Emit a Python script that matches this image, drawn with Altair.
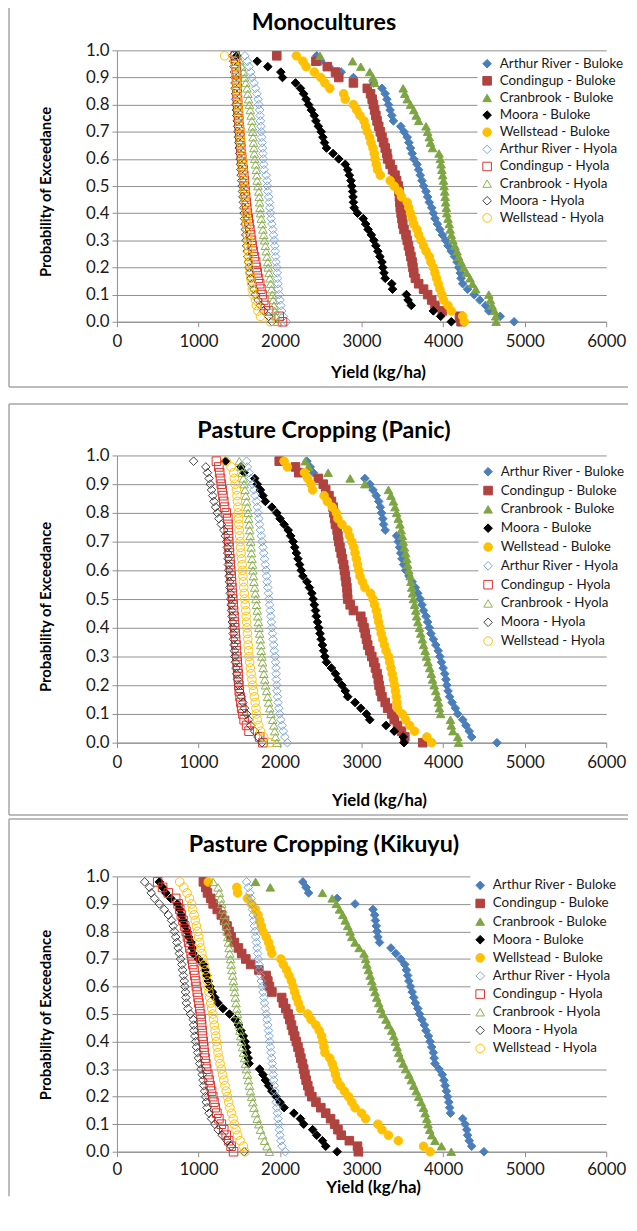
import altair as alt
import pandas as pd

# ---------------- data ----------------
PROB = [0.98, 0.96, 0.94, 0.92, 0.90, 0.88, 0.86, 0.84, 0.82, 0.80,
        0.78, 0.76, 0.74, 0.72, 0.70, 0.68, 0.66, 0.64, 0.62, 0.60,
        0.58, 0.56, 0.54, 0.52, 0.50, 0.48, 0.46, 0.44, 0.42, 0.40,
        0.38, 0.36, 0.34, 0.32, 0.30, 0.28, 0.26, 0.24, 0.22, 0.20,
        0.18, 0.16, 0.14, 0.12, 0.10, 0.08, 0.06, 0.04, 0.02, 0.00]

SERIES = ["Arthur River - Buloke", "Condingup - Buloke", "Cranbrook - Buloke",
          "Moora - Buloke", "Wellstead - Buloke", "Arthur River - Hyola",
          "Condingup - Hyola", "Cranbrook - Hyola", "Moora - Hyola", "Wellstead - Hyola"]

# ---- Monocultures ----
MONO_ARTHUR_BULOKE = [2450, 2500, 2600, 2750, 2900, 3150, 3250, 3290, 3310, 3330, 3350, 3370, 3390, 3480, 3520, 3560, 3580, 3600, 3620, 3640, 3680, 3700, 3720, 3740, 3760, 3790, 3810, 3830, 3860, 3880, 3900, 3930, 3960, 3990, 4030, 4060, 4100, 4140, 4170, 4190, 4210, 4220, 4240, 4300, 4380, 4450, 4520, 4560, 4700, 4870]
MONO_CONDINGUP_BULOKE = [1960, 2440, 2580, 2680, 2720, 2900, 3070, 3110, 3130, 3145, 3160, 3175, 3190, 3210, 3230, 3250, 3270, 3290, 3310, 3320, 3350, 3380, 3410, 3430, 3450, 3460, 3465, 3470, 3475, 3485, 3495, 3505, 3520, 3545, 3560, 3575, 3590, 3605, 3620, 3630, 3640, 3660, 3700, 3760, 3810, 3860, 3900, 3990, 4200, 4220]
MONO_CRANBROOK_BULOKE = [2490, 2890, 2990, 3100, 3140, 3160, 3510, 3530, 3560, 3600, 3640, 3670, 3700, 3790, 3810, 3830, 3845, 3870, 3950, 3965, 3975, 3985, 3995, 4005, 4012, 4020, 4025, 4032, 4040, 4045, 4060, 4075, 4086, 4100, 4120, 4145, 4170, 4190, 4220, 4250, 4290, 4330, 4360, 4400, 4560, 4580, 4600, 4630, 4645, 4650]
MONO_MOORA_BULOKE = [1470, 1720, 1850, 2010, 2030, 2190, 2250, 2290, 2320, 2350, 2385, 2420, 2440, 2470, 2505, 2525, 2545, 2570, 2650, 2720, 2800, 2830, 2850, 2870, 2880, 2890, 2895, 2900, 2910, 2950, 3020, 3050, 3080, 3120, 3150, 3175, 3200, 3225, 3250, 3260, 3275, 3290, 3370, 3380, 3550, 3570, 3610, 3880, 3970, 4100]
MONO_WELLSTEAD_BULOKE = [2200, 2280, 2320, 2420, 2500, 2550, 2610, 2780, 2800, 2900, 2940, 2980, 3030, 3050, 3070, 3100, 3115, 3140, 3155, 3165, 3180, 3195, 3230, 3350, 3400, 3460, 3490, 3560, 3580, 3600, 3620, 3640, 3680, 3700, 3730, 3760, 3790, 3830, 3850, 3880, 3900, 3920, 3940, 3960, 3985, 4005, 4060, 4100, 4240, 4260]
MONO_ARTHUR_HYOLA = [1570, 1600, 1620, 1640, 1660, 1680, 1700, 1715, 1730, 1740, 1750, 1755, 1760, 1765, 1770, 1775, 1780, 1785, 1790, 1795, 1800, 1805, 1830, 1840, 1845, 1850, 1860, 1870, 1875, 1885, 1890, 1900, 1910, 1920, 1930, 1935, 1940, 1945, 1950, 1960, 1965, 1970, 1975, 1980, 1990, 2000, 2010, 2020, 2040, 2080]
MONO_CONDINGUP_HYOLA = [1450, 1455, 1460, 1465, 1468, 1470, 1472, 1475, 1478, 1480, 1485, 1490, 1495, 1500, 1505, 1510, 1515, 1520, 1525, 1530, 1540, 1548, 1555, 1560, 1565, 1570, 1578, 1585, 1592, 1600, 1610, 1620, 1630, 1640, 1650, 1660, 1670, 1685, 1700, 1710, 1720, 1735, 1750, 1765, 1780, 1800, 1820, 1860, 1990, 2030]
MONO_CRANBROOK_HYOLA = [1480, 1510, 1530, 1550, 1565, 1580, 1595, 1605, 1615, 1625, 1635, 1645, 1655, 1660, 1665, 1670, 1675, 1680, 1685, 1690, 1700, 1710, 1715, 1720, 1730, 1740, 1745, 1750, 1755, 1760, 1770, 1780, 1790, 1800, 1810, 1820, 1830, 1840, 1850, 1855, 1865, 1875, 1885, 1895, 1905, 1915, 1925, 1935, 1950, 1970]
MONO_MOORA_HYOLA = [1420, 1430, 1435, 1440, 1445, 1448, 1450, 1455, 1458, 1460, 1465, 1470, 1475, 1480, 1485, 1490, 1495, 1500, 1505, 1510, 1515, 1520, 1525, 1530, 1535, 1540, 1545, 1550, 1555, 1560, 1565, 1570, 1575, 1580, 1585, 1590, 1598, 1605, 1612, 1620, 1630, 1645, 1660, 1680, 1700, 1730, 1760, 1800, 1860, 1900]
MONO_WELLSTEAD_HYOLA = [1320, 1440, 1450, 1455, 1460, 1465, 1470, 1475, 1480, 1485, 1490, 1495, 1500, 1505, 1510, 1515, 1520, 1525, 1530, 1535, 1540, 1545, 1550, 1555, 1560, 1565, 1570, 1575, 1580, 1585, 1590, 1595, 1600, 1605, 1610, 1612, 1615, 1618, 1620, 1622, 1630, 1640, 1650, 1660, 1670, 1700, 1710, 1730, 1760, 1880]

# ---- Pasture Cropping (Panic) ----
PANIC_ARTHUR_BULOKE = [2330, 2370, 2410, 3040, 3100, 3140, 3180, 3210, 3230, 3245, 3260, 3270, 3290, 3430, 3450, 3465, 3480, 3495, 3515, 3540, 3580, 3620, 3660, 3690, 3720, 3740, 3760, 3790, 3810, 3830, 3850, 3880, 3910, 3940, 3960, 3980, 4000, 4020, 4035, 4045, 4060, 4080, 4110, 4150, 4180, 4240, 4280, 4320, 4350, 4660]
PANIC_CONDINGUP_BULOKE = [1990, 2190, 2230, 2470, 2530, 2560, 2600, 2630, 2650, 2660, 2670, 2680, 2700, 2710, 2720, 2735, 2750, 2765, 2780, 2790, 2800, 2810, 2820, 2825, 2830, 2860, 2900, 2990, 3010, 3030, 3045, 3060, 3075, 3100, 3125, 3150, 3170, 3190, 3205, 3215, 3230, 3250, 3290, 3320, 3370, 3400, 3440, 3490, 3530, 3750]
PANIC_CRANBROOK_BULOKE = [2310, 2350, 2590, 2860, 3040, 3330, 3360, 3390, 3410, 3430, 3450, 3470, 3485, 3500, 3510, 3525, 3540, 3555, 3565, 3580, 3595, 3605, 3615, 3625, 3635, 3650, 3665, 3675, 3690, 3710, 3725, 3745, 3760, 3780, 3795, 3815, 3835, 3855, 3870, 3890, 3910, 3930, 3945, 3955, 3970, 4090, 4100, 4120, 4180, 4190]
PANIC_MOORA_BULOKE = [1330, 1520, 1560, 1690, 1720, 1760, 1790, 1820, 1900, 1960, 2000, 2050, 2100, 2130, 2160, 2180, 2200, 2220, 2240, 2260, 2280, 2330, 2360, 2390, 2405, 2420, 2435, 2445, 2460, 2475, 2490, 2505, 2520, 2535, 2550, 2570, 2630, 2680, 2710, 2760, 2800, 2830, 2920, 2990, 3060, 3100, 3300, 3400, 3510, 3520]
PANIC_WELLSTEAD_BULOKE = [2050, 2090, 2300, 2340, 2380, 2400, 2540, 2580, 2640, 2690, 2710, 2760, 2830, 2850, 2880, 2905, 2920, 2935, 2950, 2965, 2980, 3010, 3040, 3110, 3140, 3160, 3180, 3195, 3210, 3225, 3240, 3260, 3280, 3300, 3330, 3345, 3360, 3375, 3390, 3405, 3415, 3425, 3432, 3440, 3500, 3540, 3590, 3650, 3800, 3860]
PANIC_ARTHUR_HYOLA = [1590, 1600, 1620, 1640, 1660, 1680, 1695, 1710, 1720, 1730, 1740, 1750, 1760, 1770, 1780, 1790, 1800, 1810, 1820, 1828, 1835, 1842, 1850, 1858, 1865, 1872, 1880, 1887, 1894, 1900, 1908, 1915, 1922, 1930, 1940, 1945, 1950, 1952, 1955, 1958, 1962, 1968, 1975, 1985, 1995, 2010, 2025, 2040, 2060, 2090]
PANIC_CONDINGUP_HYOLA = [1220, 1250, 1260, 1270, 1280, 1290, 1300, 1310, 1320, 1340, 1360, 1362, 1365, 1368, 1370, 1375, 1380, 1385, 1390, 1395, 1400, 1405, 1410, 1415, 1420, 1425, 1430, 1435, 1440, 1445, 1450, 1455, 1460, 1465, 1470, 1475, 1480, 1485, 1490, 1495, 1500, 1510, 1520, 1530, 1545, 1560, 1590, 1620, 1750, 1790]
PANIC_CRANBROOK_HYOLA = [1500, 1520, 1535, 1550, 1560, 1570, 1580, 1590, 1600, 1608, 1615, 1622, 1628, 1634, 1640, 1645, 1650, 1656, 1662, 1668, 1674, 1680, 1688, 1696, 1704, 1712, 1720, 1728, 1735, 1742, 1750, 1757, 1764, 1770, 1777, 1785, 1793, 1802, 1812, 1822, 1835, 1848, 1860, 1875, 1890, 1910, 1925, 1935, 1945, 1960]
PANIC_MOORA_HYOLA = [940, 1090, 1110, 1130, 1145, 1160, 1175, 1190, 1210, 1230, 1250, 1280, 1310, 1330, 1345, 1352, 1358, 1362, 1366, 1370, 1375, 1380, 1385, 1390, 1395, 1400, 1405, 1410, 1415, 1420, 1425, 1430, 1435, 1440, 1445, 1452, 1460, 1468, 1478, 1490, 1505, 1525, 1545, 1565, 1590, 1615, 1640, 1690, 1730, 1780]
PANIC_WELLSTEAD_HYOLA = [1340, 1400, 1430, 1440, 1450, 1465, 1472, 1478, 1484, 1488, 1492, 1496, 1500, 1505, 1510, 1515, 1522, 1530, 1535, 1540, 1545, 1550, 1555, 1562, 1568, 1574, 1580, 1585, 1590, 1595, 1600, 1605, 1610, 1615, 1620, 1628, 1636, 1645, 1655, 1665, 1675, 1685, 1695, 1705, 1712, 1720, 1740, 1760, 1800, 1880]

# ---- Pasture Cropping (Kikuyu) ----
KIK_ARTHUR_BULOKE = [2280, 2320, 2350, 2700, 2920, 3140, 3160, 3170, 3180, 3190, 3200, 3220, 3360, 3420, 3480, 3530, 3550, 3565, 3580, 3600, 3620, 3640, 3660, 3690, 3710, 3740, 3770, 3790, 3820, 3840, 3860, 3880, 3890, 3900, 3950, 3990, 4010, 4025, 4040, 4055, 4070, 4080, 4090, 4240, 4270, 4290, 4300, 4320, 4350, 4500]
KIK_CONDINGUP_BULOKE = [1060, 1090, 1110, 1150, 1180, 1230, 1280, 1320, 1350, 1375, 1400, 1440, 1490, 1530, 1580, 1640, 1740, 1830, 1850, 1870, 1900, 2020, 2040, 2070, 2100, 2120, 2140, 2160, 2180, 2200, 2220, 2240, 2255, 2275, 2290, 2305, 2320, 2340, 2360, 2390, 2440, 2500, 2560, 2620, 2670, 2710, 2750, 2850, 2950, 2960]
KIK_CRANBROOK_BULOKE = [1700, 1880, 2520, 2640, 2690, 2730, 2770, 2800, 2830, 2860, 2880, 2920, 2970, 3030, 3050, 3065, 3085, 3105, 3125, 3145, 3165, 3185, 3210, 3235, 3260, 3300, 3330, 3370, 3395, 3415, 3435, 3455, 3480, 3510, 3540, 3580, 3610, 3640, 3670, 3700, 3730, 3760, 3780, 3800, 3815, 3835, 3860, 3900, 3980, 4100]
KIK_MOORA_BULOKE = [520, 560, 600, 660, 740, 770, 790, 810, 835, 860, 880, 910, 925, 935, 1000, 1060, 1080, 1100, 1120, 1140, 1170, 1200, 1240, 1300, 1380, 1450, 1490, 1520, 1550, 1570, 1585, 1595, 1610, 1620, 1750, 1790, 1820, 1860, 1900, 1950, 2000, 2050, 2170, 2250, 2290, 2400, 2450, 2520, 2560, 2700]
KIK_WELLSTEAD_BULOKE = [1120, 1470, 1480, 1600, 1650, 1700, 1730, 1750, 1770, 1790, 1830, 1860, 1880, 1900, 2010, 2040, 2080, 2110, 2140, 2160, 2180, 2200, 2225, 2250, 2340, 2380, 2440, 2480, 2510, 2525, 2540, 2550, 2610, 2640, 2660, 2680, 2700, 2740, 2790, 2840, 2880, 2920, 3000, 3050, 3200, 3250, 3330, 3450, 3760, 3840]
KIK_ARTHUR_HYOLA = [1590, 1610, 1630, 1645, 1655, 1662, 1670, 1678, 1686, 1694, 1702, 1710, 1718, 1726, 1734, 1742, 1750, 1760, 1770, 1780, 1790, 1800, 1810, 1820, 1830, 1840, 1850, 1858, 1866, 1874, 1882, 1890, 1898, 1905, 1912, 1918, 1924, 1930, 1938, 1945, 1952, 1960, 1968, 1976, 1984, 1992, 2000, 2010, 2025, 2065]
KIK_CONDINGUP_HYOLA = [500, 560, 630, 720, 750, 770, 790, 810, 830, 850, 865, 880, 895, 910, 920, 930, 945, 955, 965, 975, 985, 995, 1005, 1015, 1025, 1032, 1038, 1044, 1050, 1058, 1065, 1072, 1080, 1090, 1100, 1115, 1130, 1145, 1160, 1175, 1190, 1205, 1225, 1250, 1280, 1310, 1340, 1370, 1400, 1430]
KIK_CRANBROOK_HYOLA = [1180, 1240, 1255, 1270, 1285, 1300, 1315, 1330, 1340, 1350, 1360, 1368, 1376, 1384, 1392, 1400, 1410, 1420, 1428, 1436, 1444, 1452, 1460, 1468, 1478, 1488, 1498, 1508, 1518, 1528, 1540, 1552, 1564, 1576, 1588, 1600, 1612, 1625, 1638, 1652, 1666, 1680, 1700, 1720, 1740, 1760, 1785, 1810, 1840, 1870]
KIK_MOORA_HYOLA = [340, 400, 420, 460, 520, 580, 630, 670, 690, 705, 720, 735, 750, 765, 780, 795, 805, 815, 825, 833, 840, 846, 852, 870, 900, 935, 940, 945, 955, 965, 975, 990, 1000, 1015, 1030, 1045, 1055, 1065, 1075, 1085, 1095, 1105, 1130, 1160, 1200, 1240, 1290, 1350, 1400, 1560]
KIK_WELLSTEAD_HYOLA = [770, 820, 860, 890, 915, 930, 945, 960, 975, 990, 1002, 1014, 1026, 1040, 1055, 1070, 1085, 1098, 1108, 1118, 1128, 1138, 1150, 1162, 1175, 1185, 1195, 1204, 1212, 1220, 1230, 1240, 1252, 1265, 1280, 1295, 1310, 1325, 1340, 1355, 1370, 1385, 1405, 1425, 1440, 1460, 1480, 1510, 1550, 1570]

X_TICKS = [0, 1000, 2000, 3000, 4000, 5000, 6000]
Y_TICKS = [0.0, 0.1, 0.2, 0.3, 0.4, 0.5, 0.6, 0.7, 0.8, 0.9, 1.0]

# ---------------- style ----------------
FILLS = ["#4A7EBB", "#B0433F", "#7EA543", "#000000", "#FFC000",
         "transparent", "transparent", "transparent", "transparent", "transparent"]
STROKES = ["#4A7EBB", "#B0433F", "#7EA543", "#000000", "#FFC000",
           "#7EA6D8", "#E0322C", "#8DB151", "#404040", "#FFC000"]
SHAPES = ["diamond", "square", "triangle-up", "diamond", "circle",
          "diamond", "square", "triangle-up", "diamond", "circle"]

FONT = "Lato"
TXT = "#1a1a1a"
GRID = "#8F8F8F"
BOX = "#A6A6A6"
LEFT = -109
RIGHT = 516


def text_layer(one, txt, x, y, size, angle=0):
    props = dict(text=txt, font=FONT, fontSize=size, fontWeight="bold", color="#000000",
                 align="center", baseline="middle")
    if angle:
        props["angle"] = angle
    return alt.Chart(one).mark_text(**props).encode(x=alt.value(x), y=alt.value(y))


def panel(title, lists, h, title_y, ytitle_y, xtitle_x, xtitle_y,
          box_top, box_bottom, leg_x, leg_y, row_pad, left_end=None, label_pad=7):
    rows = []
    for si, (name, vals) in enumerate(zip(SERIES, lists)):
        for pi, (v, p) in enumerate(zip(vals, PROB)):
            rows.append({"series": name, "yield": v, "prob": p, "idx": si * 100 + pi})
    df = pd.DataFrame(rows)
    one = pd.DataFrame({"k": [0]})

    legend = alt.Legend(title=None, orient="none", legendX=leg_x, legendY=leg_y,
                        fillColor="white", padding=3, labelFont=FONT, labelFontSize=13.5,
                        labelColor=TXT, symbolSize=75, rowPadding=row_pad,
                        labelOffset=6, symbolStrokeWidth=1)

    pts = alt.Chart(df).mark_point(size=75, strokeWidth=1, opacity=1).encode(
        x=alt.X("yield:Q", scale=alt.Scale(domain=[0, 6000], nice=False),
                axis=alt.Axis(values=X_TICKS, format="d", grid=False, title=None,
                              labelFont=FONT, labelFontSize=17, labelColor=TXT,
                              labelPadding=label_pad, labelFlush=False, tickSize=5,
                              tickColor=GRID, domainColor=GRID)),
        y=alt.Y("prob:Q", scale=alt.Scale(domain=[0, 1], nice=False),
                axis=alt.Axis(values=Y_TICKS, format=".1f", grid=True, gridColor=GRID,
                              gridWidth=1, labelFont=FONT, labelFontSize=17,
                              labelColor=TXT, labelPadding=3, labelFlush=False,
                              tickSize=5, tickColor=GRID, domainColor=GRID, title=None)),
        fill=alt.Fill("series:N", scale=alt.Scale(domain=SERIES, range=FILLS), legend=legend),
        stroke=alt.Stroke("series:N", scale=alt.Scale(domain=SERIES, range=STROKES), legend=legend),
        shape=alt.Shape("series:N", scale=alt.Scale(domain=SERIES, range=SHAPES), legend=legend),
        order=alt.Order("idx:Q"),
    )

    layers = []
    layers.append(alt.Chart(one).mark_rule(color=BOX, strokeWidth=1.5).encode(
        x=alt.value(LEFT), x2=alt.value(RIGHT), y=alt.value(box_top)))
    left_bottom = box_bottom if box_bottom is not None else left_end
    layers.append(alt.Chart(one).mark_rule(color=BOX, strokeWidth=1.5).encode(
        x=alt.value(LEFT), y=alt.value(box_top), y2=alt.value(left_bottom)))
    if box_bottom is not None:
        layers.append(alt.Chart(one).mark_rule(color=BOX, strokeWidth=1.5).encode(
            x=alt.value(LEFT), x2=alt.value(RIGHT), y=alt.value(box_bottom)))
    layers.append(text_layer(one, title, 209, title_y, 23.5))
    layers.append(text_layer(one, "Probability of Exceedance", -72, ytitle_y, 15, angle=270))
    layers.append(text_layer(one, "Yield (kg/ha)", xtitle_x, h + xtitle_y, 17))
    layers.append(pts)
    return alt.layer(*layers).properties(width=494, height=h)


p1 = panel("Monocultures",
           [MONO_ARTHUR_BULOKE, MONO_CONDINGUP_BULOKE, MONO_CRANBROOK_BULOKE, MONO_MOORA_BULOKE,
            MONO_WELLSTEAD_BULOKE, MONO_ARTHUR_HYOLA, MONO_CONDINGUP_HYOLA, MONO_CRANBROOK_HYOLA,
            MONO_MOORA_HYOLA, MONO_WELLSTEAD_HYOLA],
           274, -28, 143, 264, 51.5, -48, 340, 364, 3.7, 2.3)
p2 = panel("Pasture Cropping (Panic)",
           [PANIC_ARTHUR_BULOKE, PANIC_CONDINGUP_BULOKE, PANIC_CRANBROOK_BULOKE, PANIC_MOORA_BULOKE,
            PANIC_WELLSTEAD_BULOKE, PANIC_ARTHUR_HYOLA, PANIC_CONDINGUP_HYOLA, PANIC_CRANBROOK_HYOLA,
            PANIC_MOORA_HYOLA, PANIC_WELLSTEAD_HYOLA],
           290, -25, 153, 265, 59, -52, 363, 365, 6.7, 4.0)
p3 = panel("Pasture Cropping (Kikuyu)",
           [KIK_ARTHUR_BULOKE, KIK_CONDINGUP_BULOKE, KIK_CRANBROOK_BULOKE, KIK_MOORA_BULOKE,
            KIK_WELLSTEAD_BULOKE, KIK_ARTHUR_HYOLA, KIK_CONDINGUP_HYOLA, KIK_CRANBROOK_HYOLA,
            KIK_MOORA_HYOLA, KIK_WELLSTEAD_HYOLA],
           278, -32, 140, 259, 37, -58, None, 357, -0.7, 3.3, left_end=323, label_pad=5)

chart = alt.vconcat(p1, p2, p3, spacing=135, bounds="flush").resolve_scale(
    x="independent", y="independent", fill="independent",
    stroke="independent", shape="independent"
).resolve_legend(fill="independent", stroke="independent", shape="independent")
chart = chart.properties(
    padding={"left": 0, "top": -12, "right": 0, "bottom": 0},
    background="white",
).configure_view(strokeWidth=0)

chart.save("out.html", embed_options={"renderer": "svg", "actions": False})
